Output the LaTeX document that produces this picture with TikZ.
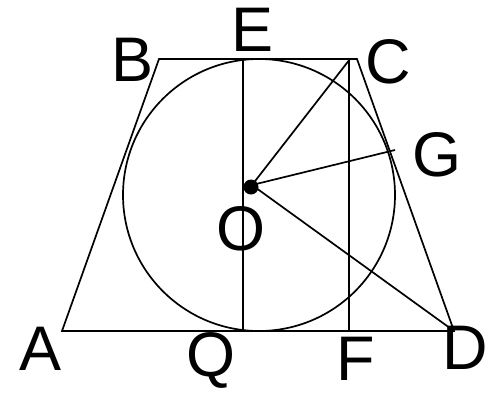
\documentclass[tikz,border=0pt]{standalone}
\usepackage{fontspec}
\setmainfont{Liberation Sans}
\tikzset{
  lbl/.style={font=\fontsize{63}{63}\selectfont, inner sep=0pt},
  edge/.style={line width=1.7pt}
}
\begin{document}
\begin{tikzpicture}[x=1pt,y=-1pt]
  \useasboundingbox (0,0) rectangle (490,392);
  % points
  \coordinate (A) at (62,331);
  \coordinate (B) at (159,59);
  \coordinate (C) at (357,59);
  \coordinate (Ct) at (350,59);
  \coordinate (D) at (454,331);
  \coordinate (E) at (243,59);
  \coordinate (Q) at (243,331);
  \coordinate (Ft) at (349,59);
  \coordinate (F) at (349,331);
  \coordinate (G) at (395,150);
  \coordinate (O) at (252,185);
  \coordinate (M) at (259,195);
  % figure
  \draw[edge] (A) -- (B) -- (C) -- (D) -- cycle;
  \draw[edge] (M) circle (136);
  \draw[edge] (E) -- (Q);
  \draw[edge] (Ft) -- (F);
  \draw[edge] (O) -- (Ct);
  \draw[edge] (O) -- (G);
  \draw[edge] (O) -- (D);
  \fill (251,187) circle (7.5);
  % labels
  \node[lbl] (lA) at (41,349) {A};
  \node[lbl] (lB) at (133,60) {B};
  \node[lbl] (lC) at (388,62) {C};
  \node[lbl] (lD) at (465,348) {D};
  \node[lbl] (lE) at (253,30) {E};
  \node[lbl] (lF) at (356,359) {F};
  \node[lbl] (lG) at (437,155) {G};
  \node[lbl] (lO) at (241,229) {O};
  \node[lbl] (lQ) at (211,360) {Q};
\end{tikzpicture}
\end{document}
